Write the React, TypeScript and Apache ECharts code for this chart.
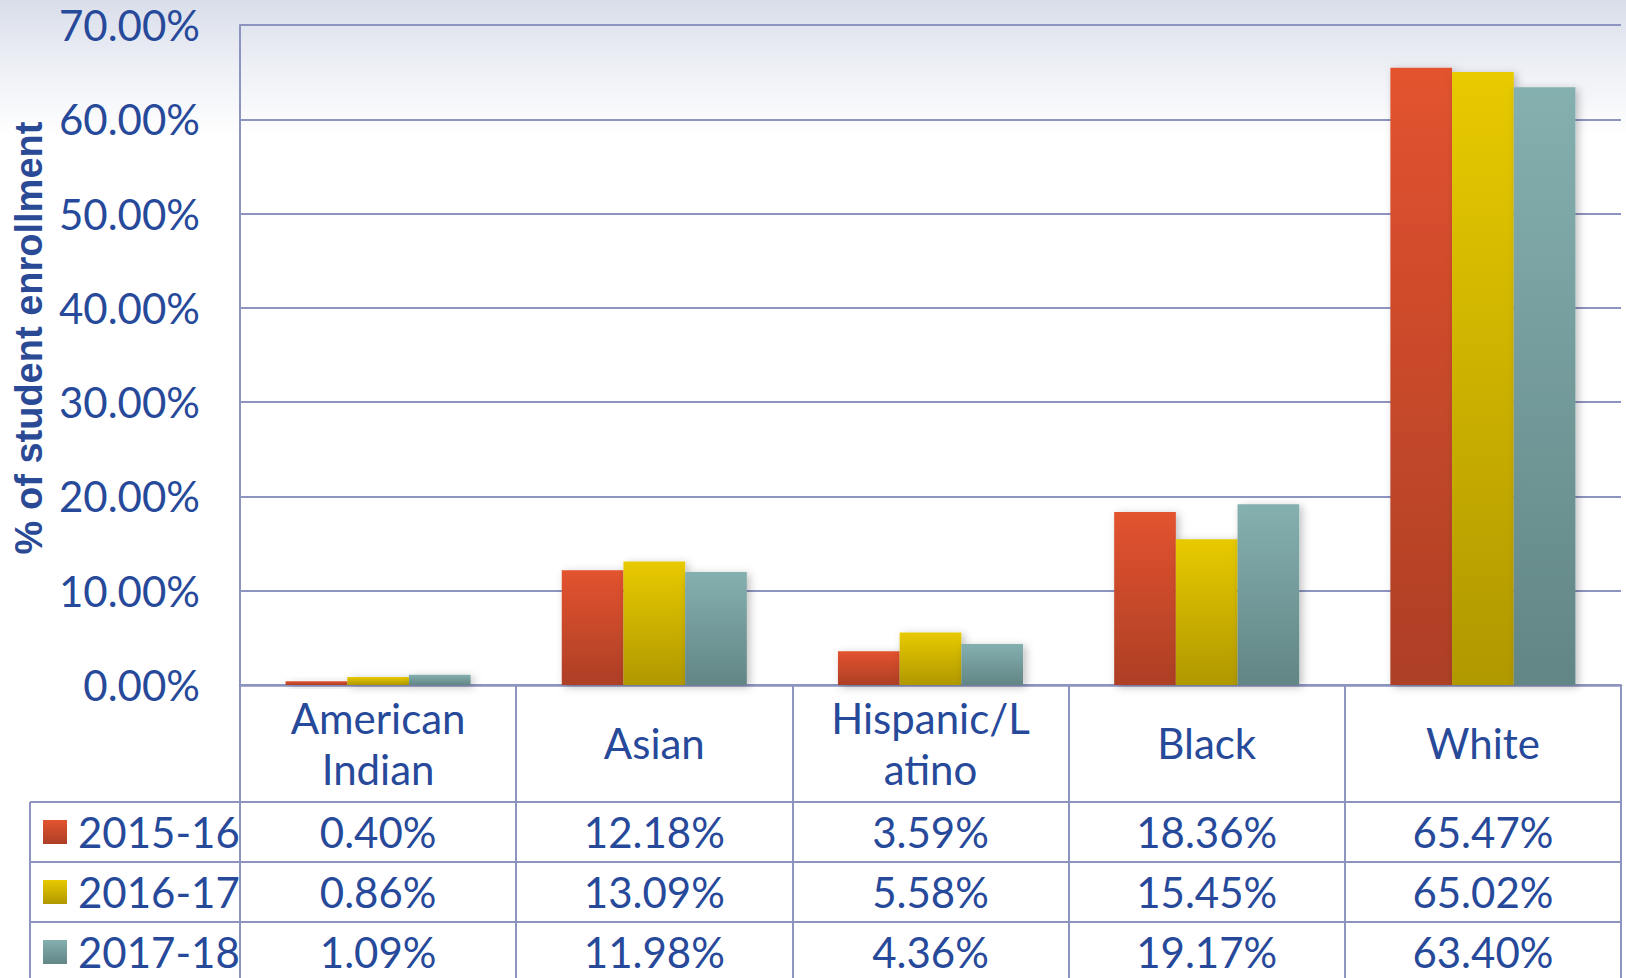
import React, { useEffect, useRef } from "react";
import * as echarts from "echarts";

const categories = ["American\nIndian", "Asian", "Hispanic/L\natino", "Black", "White"];
const seriesNames = ["2015-16", "2016-17", "2017-18"];
const values2015 = [0.4, 12.18, 3.59, 18.36, 65.47];
const values2016 = [0.86, 13.09, 5.58, 15.45, 65.02];
const values2017 = [1.09, 11.98, 4.36, 19.17, 63.4];
const yTicks = { min: 0, max: 70, interval: 10 };

const W = 1626;
const H = 978;
const GL = 240;
const GR = 5;
const GT = 25;
const GB = H - 685;
const TEXT = "#27499a";
const LINE = "#8d94bf";
const FONT = "Lato, 'Noto Sans', sans-serif";

const grad = (top: string, bottom: string) =>
  new echarts.graphic.LinearGradient(0, 0, 0, 1, [
    { offset: 0, color: top },
    { offset: 1, color: bottom },
  ]);

const colorPairs: [string, string][] = [
  ["#e3532f", "#ad3f26"],
  ["#e8ca00", "#b09800"],
  ["#85b0b0", "#628585"],
];

const allValues = [values2015, values2016, values2017];

export default function App() {
  const ref = useRef<HTMLDivElement>(null);
  useEffect(() => {
    if (!ref.current) return;
    const chart = echarts.init(ref.current, null, { renderer: "svg" });
    const axisBottom = 685;
    const rowTops = [802, 862, 922];
    const rowH = 60;
    const tableLeft = 30;
    const tableRight = W - GR;
    const legendLine = 44;

    const extraAxes = allValues.map((vals, i) => ({
      type: "category",
      data: categories,
      gridIndex: 0,
      position: "bottom",
      axisLine: { show: false },
      axisTick: { show: false },
      splitLine: { show: false },
      axisLabel: {
        interval: 0,
        margin: rowTops[i] + rowH / 2 - axisBottom,
        verticalAlign: "middle",
        color: TEXT,
        fontSize: 42,
        fontFamily: FONT,
        formatter: (_v: string, idx: number) => vals[idx].toFixed(2) + "%",
      },
    }));

    chart.setOption({
      animation: false,
      backgroundColor: "transparent",
      grid: { left: GL, right: GR, top: GT, bottom: GB, containLabel: false },
      legend: {
        orient: "vertical",
        left: 43,
        top: rowTops[0] + rowH / 2 - legendLine / 2,
        padding: 0,
        itemGap: rowH - legendLine,
        itemWidth: 24,
        itemHeight: 24,
        icon: "rect",
        data: seriesNames,
        textStyle: {
          color: TEXT,
          fontSize: 42,
          fontFamily: FONT,
          lineHeight: legendLine,
          padding: [0, 0, 0, 6],
        },
      },
      xAxis: [
        {
          type: "category",
          data: categories,
          axisLine: { show: true, lineStyle: { color: LINE, width: 2.5 } },
          axisTick: { show: true, length: 300, lineStyle: { color: LINE, width: 2 }, interval: 0 },
          axisLabel: {
            interval: 0,
            margin: 58,
            verticalAlign: "middle",
            lineHeight: 51,
            color: TEXT,
            fontSize: 42,
            fontFamily: FONT,
          },
        },
        ...extraAxes,
      ],
      yAxis: {
        type: "value",
        min: yTicks.min,
        max: yTicks.max,
        interval: yTicks.interval,
        axisLine: { show: true, lineStyle: { color: LINE, width: 2 } },
        axisTick: { show: false },
        splitLine: { lineStyle: { color: LINE, width: 2 } },
        axisLabel: {
          margin: 40,
          color: TEXT,
          fontSize: 42,
          fontFamily: FONT,
          formatter: (v: number) => v.toFixed(2) + "%",
        },
      },
      series: allValues.map((vals, i) => ({
        name: seriesNames[i],
        type: "bar",
        data: vals,
        barGap: "0%",
        barCategoryGap: "33%",
        itemStyle: {
          color: grad(colorPairs[i][0], colorPairs[i][1]),
          shadowBlur: 8,
          shadowColor: "rgba(0,0,0,0.25)",
          shadowOffsetX: 3,
          shadowOffsetY: 2,
        },
      })),
      graphic: [
        ...rowTops.map((y) => ({
          type: "line",
          shape: { x1: tableLeft, y1: y, x2: tableRight, y2: y },
          style: { stroke: LINE, lineWidth: 2 },
          silent: true,
        })),
        {
          type: "line",
          shape: { x1: tableLeft, y1: rowTops[0], x2: tableLeft, y2: H },
          style: { stroke: LINE, lineWidth: 2 },
          silent: true,
        },
        {
          type: "text",
          x: 29,
          y: 338,
          rotation: Math.PI / 2,
          style: {
            text: "% of student enrollment",
            fill: "#2a4a96",
            font: "bold 38px 'Liberation Sans Narrow', 'Liberation Sans', Arial, sans-serif",
            align: "center",
            verticalAlign: "middle",
          },
        },
      ],
    });
    return () => chart.dispose();
  }, []);
  return (
    <div
      ref={ref}
      style={{
        position: "absolute",
        left: 0,
        top: 0,
        width: W,
        height: H,
        background: "linear-gradient(to bottom, #d9deea 0%, #eef0f6 7%, #ffffff 14%, #ffffff 100%)",
      }}
    />
  );
}
